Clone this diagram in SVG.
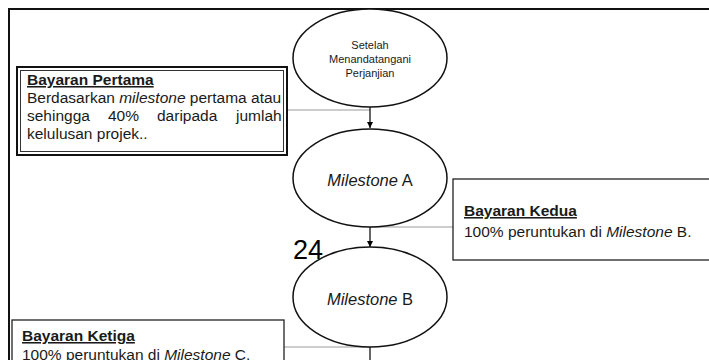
<svg xmlns="http://www.w3.org/2000/svg" width="709" height="360" viewBox="0 0 709 360">
<defs>
<marker id="ah" viewBox="0 0 10 10" refX="10" refY="5" markerWidth="6" markerHeight="7" markerUnits="userSpaceOnUse" orient="auto">
<path d="M0,0 L10,5 L0,10 z" fill="#000"/>
</marker>
</defs>
<style>
text{font-family:"Liberation Sans",Arial,sans-serif;fill:#1a1a1a}
.el{fill:#fff;stroke:#111;stroke-width:1.5}
.box{fill:#fff;stroke:#222;stroke-width:1.3}
.t{font-size:15.5px}
.h{font-size:15.5px;font-weight:bold;text-decoration:underline}
.s{font-size:11px}
.m{font-size:16.5px}
.i{font-style:italic}
.con{stroke:#9a9a9a;stroke-width:1;fill:none}
.arr{stroke:#000;stroke-width:1.2;fill:none;marker-end:url(#ah)}
</style>
<rect width="709" height="360" fill="#fff"/>
<path d="M9,360 V9 H709" fill="none" stroke="#111" stroke-width="2"/>
<g id="connectors">
<path class="con" d="M287,110 H370"/>
<path class="con" d="M370,227 H453"/>
<path class="con" d="M284,347 H370"/>
<path class="arr" d="M370,106 V128"/>
<path class="arr" d="M370,227 V247"/>
<path class="arr" d="M370,347 V368"/>
</g>
<g id="start">
<ellipse class="el" cx="370" cy="58" rx="77" ry="49"/>
<text class="s" text-anchor="middle" x="370" y="49">Setelah</text>
<text class="s" text-anchor="middle" x="370" y="63">Menandatangani</text>
<text class="s" text-anchor="middle" x="370" y="77">Perjanjian</text>
</g>
<g id="bayaran-pertama">
<rect x="17" y="67" width="270" height="88" fill="#fff" stroke="#111" stroke-width="2"/>
<rect x="20.5" y="70.5" width="263" height="81" fill="none" stroke="#333" stroke-width="1"/>
<text class="h" x="27" y="85">Bayaran Pertama</text>
<text class="t" x="27" y="103">Berdasarkan <tspan class="i">milestone</tspan> pertama atau</text>
<text class="t" y="121"><tspan x="27">sehingga</tspan><tspan x="108">40%</tspan><tspan x="157">daripada</tspan><tspan x="236">jumlah</tspan></text>
<text class="t" x="27" y="139">kelulusan projek..</text>
</g>
<g id="milestone-a">
<ellipse class="el" cx="370" cy="178" rx="77" ry="49"/>
<text class="m" text-anchor="middle" x="370" y="186"><tspan class="i">Milestone</tspan> A</text>
</g>
<g id="bayaran-kedua">
<rect class="box" x="453" y="179" width="270" height="81"/>
<text class="h" x="464" y="216">Bayaran Kedua</text>
<text class="t" x="464" y="237">100% peruntukan di <tspan class="i">Milestone</tspan> B.</text>
</g>
<text x="293" y="259" style="font-size:27px;fill:#000">24</text>
<g id="milestone-b">
<ellipse class="el" cx="370" cy="297" rx="77" ry="50"/>
<text class="m" text-anchor="middle" x="370" y="305"><tspan class="i">Milestone</tspan> B</text>
</g>
<g id="bayaran-ketiga">
<rect class="box" x="12" y="320" width="272" height="60"/>
<text class="h" x="22" y="341">Bayaran Ketiga</text>
<text class="t" x="22" y="360">100% peruntukan di <tspan class="i">Milestone</tspan> C.</text>
</g>
</svg>
